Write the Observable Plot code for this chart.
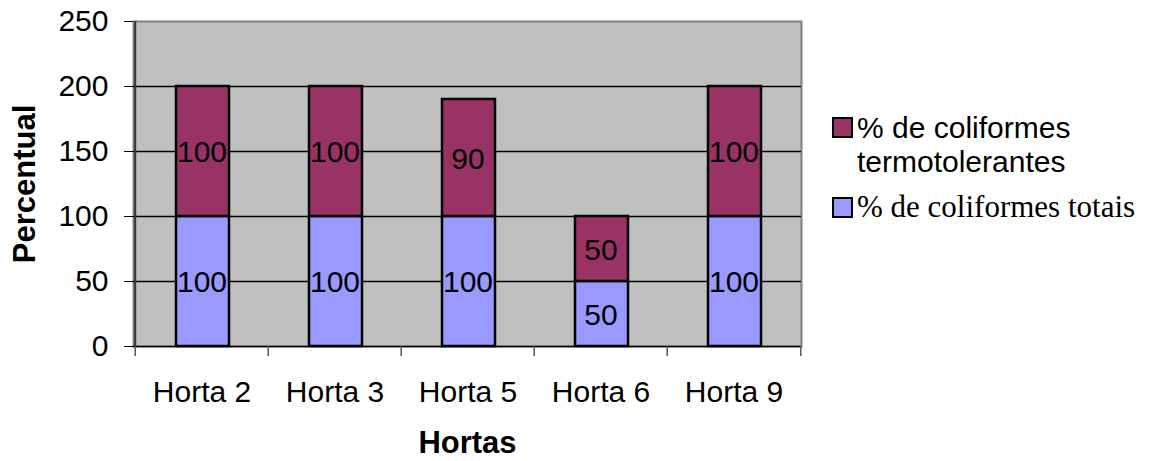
<!DOCTYPE html>
<html><head><meta charset="utf-8">
<script src="https://cdn.jsdelivr.net/npm/d3@7"></script>
<script src="https://cdn.jsdelivr.net/npm/@observablehq/plot@0.6"></script>
<style>
body{margin:0;background:#fff;}
#wrap{position:relative;width:1157px;height:461px;}
.leg{position:absolute;left:832px;line-height:34px;color:#000;white-space:nowrap;}
.sw{position:absolute;left:0;width:17px;height:17px;border:2px solid #000;}
</style></head>
<body><div id="wrap"></div>
<script>
const categories = ["Horta 2","Horta 3","Horta 5","Horta 6","Horta 9"];
const seriesNames = ["% de coliformes totais","% de coliformes termotolerantes"];
const totais = [100,100,100,50,100];
const termotolerantes = [100,100,90,50,100];
const yTicks = [0,50,100,150,200,250];
const gridValues = [50,100,150,200];
const colors = ["#9999FF","#993366"];

const rows = [];
categories.forEach((c,i)=>{
  rows.push({cat:c, series:seriesNames[0], value:totais[i]});
  rows.push({cat:c, series:seriesNames[1], value:termotolerantes[i]});
});

const W = 1157, H = 461, mL = 133, mR = 356;
const half = (W - mL - mR) / categories.length / 2;
const SANS = "Arial, 'Liberation Sans', sans-serif";

const chart = Plot.plot({
  width: W, height: H,
  marginLeft: mL, marginRight: mR, marginTop: 21, marginBottom: 115,
  style: {fontFamily: SANS, fontSize: "30px", color: "#000", background: "#fff"},
  x: {domain: categories, padding: 0, label: null},
  y: {domain: [0,250], ticks: yTicks, label: null},
  color: {domain: seriesNames, range: colors},
  marks: [
    Plot.frame({fill: "#c0c0c0", stroke: "#808080", strokeWidth: 2}),
    Plot.ruleY(gridValues, {stroke: "#000", strokeWidth: 1.5}),
    Plot.ruleY([0], {stroke: "#000", strokeWidth: 1.5}),
    Plot.ruleX([categories[0]], {dx: -half, stroke: "#333", strokeWidth: 2}),
    Plot.ruleX(categories, {dx: -half, y1: 0, y2: 0, insetBottom: -10, stroke: "#555", strokeWidth: 1.5}),
    Plot.ruleX([categories[categories.length-1]], {dx: half, y1: 0, y2: 0, insetBottom: -10, stroke: "#555", strokeWidth: 1.5}),
    Plot.barY(rows, {x: "cat", y: "value", fill: "series", z: "series", stroke: "#000", strokeWidth: 2.5, insetLeft: 41, insetRight: 39, order: seriesNames}),
    Plot.text(rows, Plot.stackY({x: "cat", y: "value", z: "series", text: d => String(d.value), order: seriesNames, fill: "#000", fontSize: 30, dy: 1})),
    Plot.axisY({ticks: yTicks, tickSize: 9, tickPadding: 16, fontSize: 30, label: null, stroke: "#000"}),
    Plot.axisX({tickSize: 0, tickPadding: 34, fontSize: 30, label: null}),
    Plot.text(["Percentual"], {frameAnchor: "left", textAnchor: "middle", lineAnchor: "middle", dx: -108, rotate: -90, fontWeight: "bold", fontSize: 31, fill: "#000"}),
    Plot.text(["Hortas"], {frameAnchor: "bottom", dy: 106, fontWeight: "bold", fontSize: 31, fill: "#000"})
  ]
});
const wrap = document.getElementById("wrap");
wrap.appendChild(chart);

const leg1 = document.createElement("div");
leg1.className = "leg"; leg1.style.top = "111px"; leg1.style.fontFamily = SANS; leg1.style.fontSize = "30px";
leg1.innerHTML = `<div class="sw" style="top:6px;background:${colors[1]}"></div><div style="margin-left:25px">${seriesNames[1].replace("coliformes ","coliformes<br>")}</div>`;
wrap.appendChild(leg1);
const leg2 = document.createElement("div");
leg2.className = "leg"; leg2.style.top = "190px"; leg2.style.fontFamily = "'Liberation Serif','Times New Roman',serif"; leg2.style.fontSize = "31px";
leg2.innerHTML = `<div class="sw" style="top:7px;background:${colors[0]}"></div><div style="margin-left:25px">${seriesNames[0]}</div>`;
wrap.appendChild(leg2);
</script></body></html>
